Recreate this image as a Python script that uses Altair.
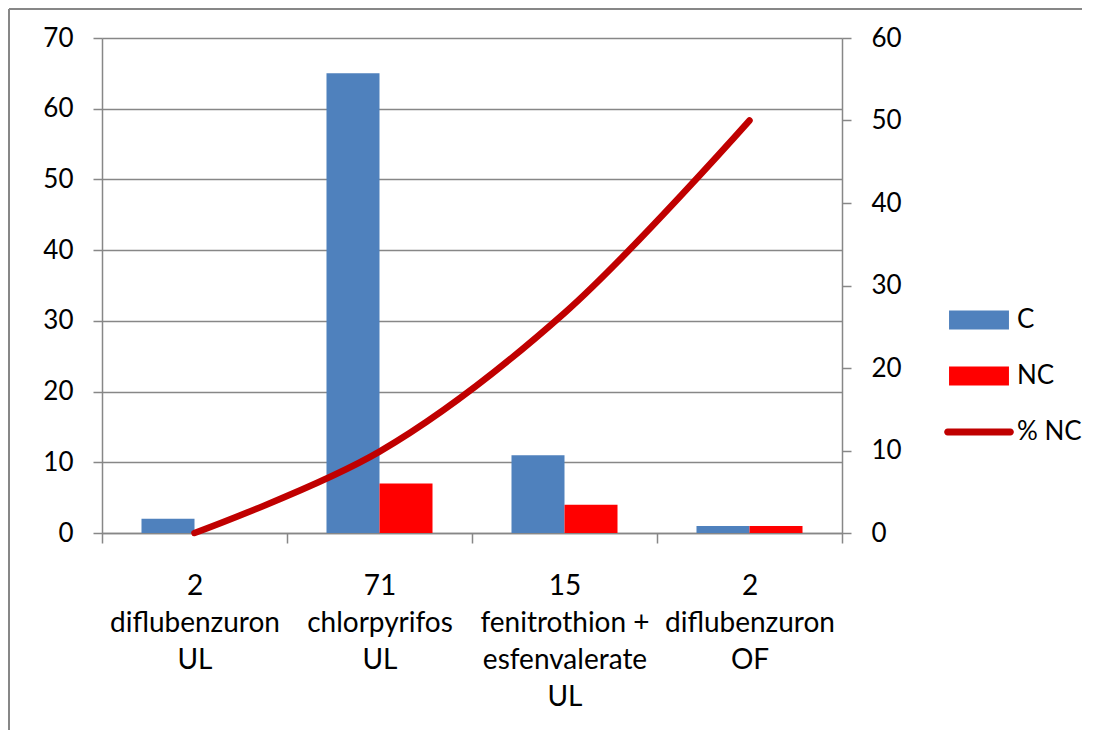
import altair as alt
import pandas as pd

categories = ["2|diflubenzuron|UL", "71|chlorpyrifos|UL", "15|fenitrothion +|esfenvalerate|UL", "2|diflubenzuron|OF"]
c_values = [2, 65, 11, 1]
nc_values = [0, 7, 4, 1]
pct_nc = [0, 9.86, 26.67, 50]

bars = pd.DataFrame({
    "cat": categories * 2,
    "series": ["C"] * 4 + ["NC"] * 4,
    "value": c_values + nc_values,
})
line = pd.DataFrame({"cat": categories, "pct": pct_nc})

FONT = "Lato"
GRAY = "#878787"

x_enc = alt.X(
    "cat:N", sort=categories, title=None,
    scale=alt.Scale(paddingInner=0, paddingOuter=0),
    axis=alt.Axis(labelExpr="split(datum.label, '|')", labelAngle=0, tickBand="extent",
                  tickSize=10, labelPadding=29, labelLineHeight=37, labelFontSize=28,
                  labelFont=FONT, labelColor="black", domainColor=GRAY, tickColor=GRAY,
                  domainWidth=1.5, tickWidth=1.5, grid=False, labelBaseline="top"),
)

bar_legend = alt.Legend(
    title=None, orient="none", legendX=849, legendY=254, labelFontSize=26, labelFont=FONT,
    labelColor="black", labelOffset=10, symbolSize=3136, rowPadding=15,
    symbolType="M-1.07,-0.34H1.07V0.34H-1.07Z", symbolStrokeWidth=0,
)

line_legend = alt.Legend(
    title=None, orient="none", legendX=849, legendY=366, labelFontSize=26, labelFont=FONT,
    labelColor="black", labelOffset=10, symbolSize=3136,
    symbolType="M-1.12,-0.125H1.12A0.125,0.125 0 0 1 1.12,0.125H-1.12A0.125,0.125 0 0 1 -1.12,-0.125Z",
    symbolFillColor="#C00000", symbolStrokeWidth=0,
)

bar_layer = alt.Chart(bars).mark_bar().encode(
    x=x_enc,
    xOffset=alt.XOffset("series:N", sort=["C", "NC"], scale=alt.Scale(paddingInner=0, paddingOuter=0.745)),
    y=alt.Y("value:Q", title=None, scale=alt.Scale(domain=[0, 70], nice=False),
            axis=alt.Axis(values=[0, 10, 20, 30, 40, 50, 60, 70], orient="left", grid=True,
                          gridColor=GRAY, gridWidth=1.5, domainColor=GRAY, tickColor=GRAY,
                          domainWidth=1.5, tickWidth=1.5, tickSize=9, labelPadding=20,
                          labelFontSize=26, labelFont=FONT, labelColor="black")),
    color=alt.Color("series:N", sort=["C", "NC"],
                    scale=alt.Scale(domain=["C", "NC"], range=["#4F81BD", "#FF0000"]),
                    legend=bar_legend),
)

line_layer = alt.Chart(line).mark_line(strokeWidth=6.5, interpolate="catmull-rom", strokeCap="round").encode(
    x=alt.X("cat:N", sort=categories),
    y=alt.Y("pct:Q", title=None, scale=alt.Scale(domain=[0, 60], nice=False),
            axis=alt.Axis(values=[0, 10, 20, 30, 40, 50, 60], orient="right", grid=False,
                          domainColor=GRAY, tickColor=GRAY, domainWidth=1.5, tickWidth=1.5,
                          tickSize=9, labelPadding=20, labelFontSize=26, labelFont=FONT,
                          labelColor="black")),
    stroke=alt.Stroke("s:N", scale=alt.Scale(domain=["% NC"], range=["#C00000"]), legend=line_legend),
).transform_calculate(s="'% NC'")

frame = pd.DataFrame({"a": [0]})
border_top = alt.Chart(frame).mark_rule(stroke=GRAY, strokeWidth=2, clip=False).encode(
    x=alt.value(-93), x2=alt.value(1200), y=alt.value(-29))
border_left = alt.Chart(frame).mark_rule(stroke=GRAY, strokeWidth=2, clip=False).encode(
    x=alt.value(-93), y=alt.value(-29), y2=alt.value(1000))

chart = alt.layer(bar_layer, line_layer, border_top, border_left).resolve_scale(y="independent").properties(
    width=740, height=495,
    autosize=alt.AutoSizeParams(type="none"),
    padding={"left": 94, "top": 30, "right": 240, "bottom": 197},
).configure_view(stroke=None).configure(font=FONT)

chart.save("out.html", embed_options={"renderer": "svg", "actions": False})
